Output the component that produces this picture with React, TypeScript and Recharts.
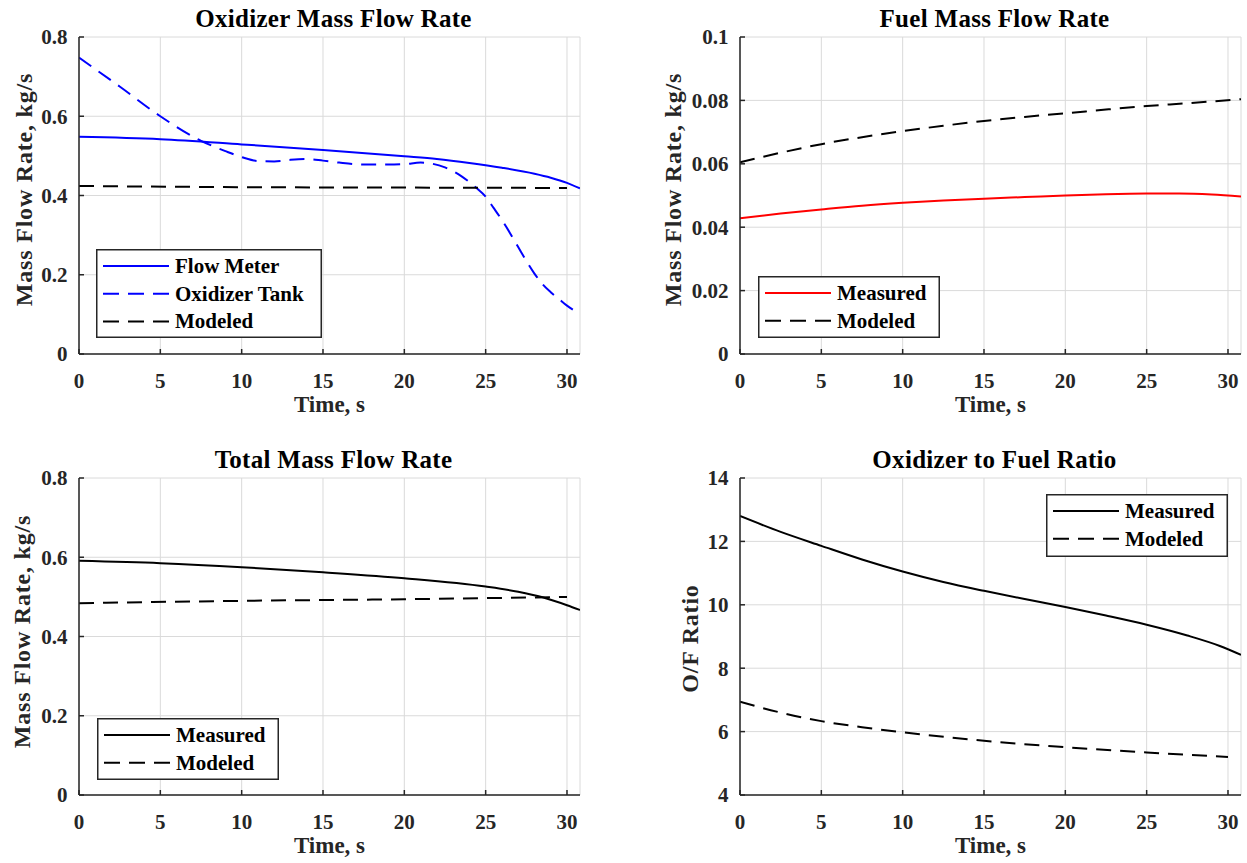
import React from 'react';
import { LineChart, Line, XAxis, YAxis, CartesianGrid, Legend } from 'recharts';

// ---------------- data ----------------
const xTicks = [0, 5, 10, 15, 20, 25, 30];
const xMax = 30.8;

// Oxidizer mass flow rate
const oxMeterT = [0, 5, 10, 15, 20, 22, 24, 26, 28, 29, 30, 30.8];
const oxMeterV = [0.548, 0.542, 0.529, 0.515, 0.499, 0.492, 0.482, 0.47, 0.455, 0.445, 0.432, 0.418];
const oxTankT = [0, 2.5, 5, 7.5, 9, 10, 11, 12, 13, 14, 15, 16, 17, 18, 19, 20, 21, 21.6, 22.5, 23.5, 24.4, 25, 25.5, 26, 26.5, 27, 27.5, 28, 28.5, 29, 29.5, 30, 30.4, 30.8];
const oxTankV = [0.748, 0.675, 0.6, 0.538, 0.512, 0.497, 0.487, 0.486, 0.49, 0.492, 0.488, 0.483, 0.479, 0.478, 0.478, 0.479, 0.483, 0.481, 0.471, 0.449, 0.42, 0.397, 0.368, 0.338, 0.305, 0.27, 0.235, 0.203, 0.176, 0.156, 0.139, 0.122, 0.111, 0.101];
const oxModelT = [0, 10, 20, 30];
const oxModelV = [0.424, 0.421, 0.42, 0.419];

// Fuel mass flow rate
const fuelMeasT = [0, 2.5, 5, 7.5, 10, 12.5, 15, 17.5, 20, 22.5, 25, 27, 29, 30.8];
const fuelMeasV = [0.0428, 0.0443, 0.0456, 0.0468, 0.0477, 0.0484, 0.049, 0.0495, 0.05, 0.0504, 0.0506, 0.0506, 0.0503, 0.0497];
const fuelModelT = [0, 2.5, 5, 7.5, 10, 12.5, 15, 17.5, 20, 22.5, 25, 27.5, 30.8];
const fuelModelV = [0.0605, 0.0635, 0.0662, 0.0684, 0.0703, 0.072, 0.0735, 0.0748, 0.0759, 0.0771, 0.0782, 0.0791, 0.0804];

// Total mass flow rate
const totMeasT = [0, 5, 10, 15, 20, 25, 27, 28.5, 30, 30.8];
const totMeasV = [0.591, 0.585, 0.575, 0.562, 0.547, 0.526, 0.513, 0.499, 0.479, 0.467];
const totModelT = [0, 10, 20, 30];
const totModelV = [0.484, 0.49, 0.494, 0.5];

// O/F ratio
const ofMeasT = [0, 2.5, 5, 7.5, 10, 12.5, 15, 17.5, 20, 22.5, 25, 27.5, 29.5, 30.8];
const ofMeasV = [12.8, 12.3, 11.86, 11.43, 11.05, 10.72, 10.44, 10.18, 9.93, 9.66, 9.37, 9.03, 8.7, 8.42];
const ofModelT = [0, 2.5, 5, 7.5, 10, 15, 20, 25, 30];
const ofModelV = [6.94, 6.6, 6.33, 6.14, 5.98, 5.71, 5.51, 5.34, 5.2];

// y ticks
const flowTicks = [0, 0.2, 0.4, 0.6, 0.8];
const flowTickLabels = ['0', '0.2', '0.4', '0.6', '0.8'];
const fuelTicks = [0, 0.02, 0.04, 0.06, 0.08, 0.1];
const fuelTickLabels = ['0', '0.02', '0.04', '0.06', '0.08', '0.1'];
const ofTicks = [4, 6, 8, 10, 12, 14];
const ofTickLabels = ['4', '6', '8', '10', '12', '14'];

// ---------------- styling ----------------
const FONT = '"Liberation Serif", "Times New Roman", serif';
const AXIS = '#262626';
const GRID = '#dadada';
const DASH = '15 9';

const CH_W = 585;
const CH_H = 419;
const Y_AXIS_W = 79;
const X_AXIS_H = 65;
const TOP_M = 37;
const RIGHT_M = 5;
const PLOT_H = CH_H - TOP_M - X_AXIS_H;

type SeriesDef = { key: string; name: string; color: string; dashed: boolean; t: number[]; v: number[] };

const zip = (t: number[], v: number[]) => t.map((x, i) => ({ t: x, v: v[i] }));

// Draws the x-axis label and the panel title (centred on the plot area)
function XLabel(props: any) {
  const vb = props.viewBox || {};
  const cx = vb.x + vb.width / 2;
  const y = vb.y + 57.5;
  const titleY = vb.y - PLOT_H - 10.5;
  return (
    <g>
      <text x={cx} y={y} textAnchor="middle" fontFamily={FONT} fontWeight="bold" fontSize={23} fill={AXIS}>
        {props.text}
      </text>
      <text x={cx + 4} y={titleY} textAnchor="middle" fontFamily={FONT} fontWeight="bold" fontSize={25} fill="#000" letterSpacing={0.3}>
        {props.title}
      </text>
    </g>
  );
}

function YLabel(props: any) {
  const vb = props.viewBox || {};
  const x = vb.x + vb.width - props.gap;
  const y = vb.y + vb.height / 2 + props.shift;
  return (
    <text x={x} y={y} transform={`rotate(-90, ${x}, ${y})`} textAnchor="middle" fontFamily={FONT} fontWeight="bold" fontSize={24} fill={AXIS} letterSpacing={0.8}>
      {props.text}
    </text>
  );
}

function LegendBox({ series, width, height }: { series: SeriesDef[]; width: number; height: number }) {
  return (
    <svg width={width} height={height} style={{ display: 'block' }}>
      <rect x={0.75} y={0.75} width={width - 1.5} height={height - 1.5} fill="#fff" stroke={AXIS} strokeWidth={1.5} />
      {series.map((s, i) => {
        const y = 17 + i * 27.7;
        return (
          <g key={s.key}>
            <line x1={7} x2={73} y1={y} y2={y} stroke={s.color} strokeWidth={2} strokeDasharray={s.dashed ? '16 9' : undefined} />
            <text x={79} y={y + 7} fontFamily={FONT} fontWeight="bold" fontSize={21} fill="#000">
              {s.name}
            </text>
          </g>
        );
      })}
    </svg>
  );
}

type PanelProps = {
  left: number;
  top: number;
  title: string;
  yLabel: string;
  yLabelGap: number;
  yLabelShift: number;
  yDomain: [number, number];
  yTicks: number[];
  yTickLabels: string[];
  series: SeriesDef[];
  legend: { left: number; top: number; width: number; height: number };
};

function Panel(p: PanelProps) {
  const axisLine = { stroke: AXIS, strokeWidth: 1.5 };
  const tickStyle = { fill: AXIS, fontSize: 21, fontFamily: FONT, fontWeight: 'bold' };
  const fmtY = (v: number) => {
    const idx = p.yTicks.findIndex((t) => Math.abs(t - v) < 1e-9);
    return idx >= 0 ? p.yTickLabels[idx] : String(v);
  };
  return (
    <div style={{ position: 'absolute', left: p.left, top: p.top, width: CH_W, height: CH_H }}>
      <LineChart width={CH_W} height={CH_H} margin={{ top: TOP_M, right: RIGHT_M, bottom: 0, left: 0 }}>
        <CartesianGrid stroke={GRID} strokeWidth={1} />
        <XAxis
          dataKey="t"
          type="number"
          domain={[0, xMax]}
          ticks={xTicks}
          interval={0}
          allowDataOverflow
          height={X_AXIS_H}
          tickSize={-5}
          tickMargin={24}
          axisLine={axisLine}
          tickLine={axisLine}
          tick={tickStyle}
          label={<XLabel text="Time, s" title={p.title} />}
        />
        <XAxis
          xAxisId="top"
          orientation="top"
          type="number"
          domain={[0, xMax]}
          ticks={xTicks}
          interval={0}
          allowDataOverflow
          height={0}
          tickSize={-5}
          axisLine={axisLine}
          tickLine={axisLine}
          tick={false}
        />
        <YAxis
          type="number"
          domain={p.yDomain}
          ticks={p.yTicks}
          interval={0}
          allowDataOverflow
          width={Y_AXIS_W}
          tickSize={-5}
          tickMargin={16.5}
          axisLine={axisLine}
          tickLine={axisLine}
          tick={tickStyle}
          tickFormatter={fmtY}
          label={<YLabel text={p.yLabel} gap={p.yLabelGap} shift={p.yLabelShift} />}
        />
        <YAxis
          yAxisId="right"
          orientation="right"
          type="number"
          domain={p.yDomain}
          ticks={p.yTicks}
          interval={0}
          allowDataOverflow
          width={0}
          tickSize={-5}
          axisLine={axisLine}
          tickLine={axisLine}
          tick={false}
        />
        {p.series.map((s) => (
          <Line
            key={s.key}
            data={zip(s.t, s.v)}
            dataKey="v"
            name={s.name}
            type="monotone"
            stroke={s.color}
            strokeWidth={2}
            strokeDasharray={s.dashed ? DASH : undefined}
            dot={false}
            activeDot={false}
            isAnimationActive={false}
          />
        ))}
        <Legend
          layout="vertical"
          align="center"
          verticalAlign="middle"
          width={p.legend.width}
          height={p.legend.height}
          wrapperStyle={{ left: p.legend.left, top: p.legend.top, width: p.legend.width, height: p.legend.height, margin: 0, padding: 0 }}
          content={() => <LegendBox series={p.series} width={p.legend.width} height={p.legend.height} />}
        />
      </LineChart>
    </div>
  );
}

const panels: (PanelProps & { id: string })[] = [
  {
    id: 'ox',
    left: 0,
    top: 0,
    title: 'Oxidizer Mass Flow Rate',
    yLabel: 'Mass Flow Rate, kg/s',
    yLabelGap: 47.5,
    yLabelShift: -6,
    yDomain: [0, 0.8],
    yTicks: flowTicks,
    yTickLabels: flowTickLabels,
    series: [
      { key: 'meter', name: 'Flow Meter', color: '#0000ff', dashed: false, t: oxMeterT, v: oxMeterV },
      { key: 'tank', name: 'Oxidizer Tank', color: '#0000ff', dashed: true, t: oxTankT, v: oxTankV },
      { key: 'model', name: 'Modeled', color: '#000000', dashed: true, t: oxModelT, v: oxModelV },
    ],
    legend: { left: 96, top: 249, width: 226, height: 89 },
  },
  {
    id: 'fuel',
    left: 661,
    top: 0,
    title: 'Fuel Mass Flow Rate',
    yLabel: 'Mass Flow Rate, kg/s',
    yLabelGap: 59,
    yLabelShift: -6,
    yDomain: [0, 0.1],
    yTicks: fuelTicks,
    yTickLabels: fuelTickLabels,
    series: [
      { key: 'meas', name: 'Measured', color: '#ff0000', dashed: false, t: fuelMeasT, v: fuelMeasV },
      { key: 'model', name: 'Modeled', color: '#000000', dashed: true, t: fuelModelT, v: fuelModelV },
    ],
    legend: { left: 96.5, top: 276, width: 182, height: 62 },
  },
  {
    id: 'total',
    left: 0,
    top: 441,
    title: 'Total Mass Flow Rate',
    yLabel: 'Mass Flow Rate, kg/s',
    yLabelGap: 49,
    yLabelShift: -5,
    yDomain: [0, 0.8],
    yTicks: flowTicks,
    yTickLabels: flowTickLabels,
    series: [
      { key: 'meas', name: 'Measured', color: '#000000', dashed: false, t: totMeasT, v: totMeasV },
      { key: 'model', name: 'Modeled', color: '#000000', dashed: true, t: totModelT, v: totModelV },
    ],
    legend: { left: 96.5, top: 276.5, width: 182, height: 62 },
  },
  {
    id: 'of',
    left: 661,
    top: 441,
    title: 'Oxidizer to Fuel Ratio',
    yLabel: 'O/F Ratio',
    yLabelGap: 41.6,
    yLabelShift: 2,
    yDomain: [4, 14],
    yTicks: ofTicks,
    yTickLabels: ofTickLabels,
    series: [
      { key: 'meas', name: 'Measured', color: '#000000', dashed: false, t: ofMeasT, v: ofMeasV },
      { key: 'model', name: 'Modeled', color: '#000000', dashed: true, t: ofModelT, v: ofModelV },
    ],
    legend: { left: 385, top: 53, width: 182, height: 63 },
  },
];

export default function App() {
  return (
    <div style={{ position: 'absolute', left: 0, top: 0, width: 1247, height: 863, overflow: 'hidden', background: '#fff' }}>
      {panels.map(({ id, ...p }) => (
        <Panel key={id} {...p} />
      ))}
    </div>
  );
}
